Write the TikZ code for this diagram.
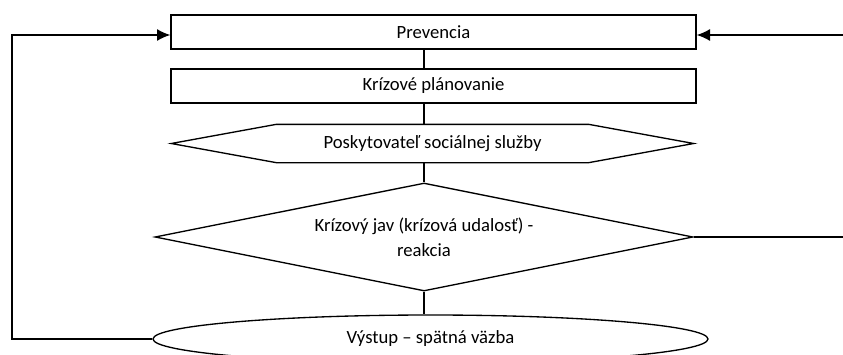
\documentclass[tikz,border=0pt]{standalone}
\usepackage{fontspec}
\setmainfont{Carlito}
\usetikzlibrary{calc}
\usetikzlibrary{shapes.geometric}
\usetikzlibrary{arrows.meta}
\newdimen\pxunit
\setlength{\pxunit}{0.75pt}

\begin{document}
\begin{tikzpicture}[x=0.75pt,y=-0.75pt,line width=1pt,font=\fontsize{14}{18.75}\selectfont,box/.style={rectangle,draw,sharp corners,inner sep=0},frame/.style={rectangle,draw=none,inner sep=0},decision/.style={diamond,draw,aspect=5,inner sep=0,align=center},terminal/.style={ellipse,draw,inner sep=0},wire/.style={draw},feed/.style={draw,-{Latex[length=10pt,width=9pt]}}]
  \useasboundingbox (0,0) rectangle (843,354);
  \node[box,minimum width=525\pxunit,minimum height=34\pxunit] (prevencia) at (433.5,32) {Prevencia};
  \node[box,minimum width=525\pxunit,minimum height=34\pxunit] (planovanie) at (433.5,86) {Krízové plánovanie};
  \node[frame,minimum width=521\pxunit,minimum height=37\pxunit] (poskytovatel) at (432.5,143.5) {Poskytovateľ sociálnej služby};
  \node[decision,minimum width=538\pxunit,minimum height=108\pxunit] (jav) at (424,237) {Krízový jav (krízová udalosť) -\\reakcia};
  \node[terminal,minimum width=555\pxunit,minimum height=48\pxunit] (vystup) at (430.5,339) {Výstup – spätná väzba};
  \coordinate (loop) at (12,35);
  \coordinate (right in) at (843,35);
  \coordinate (right out) at (843,237);
  \path[wire] (poskytovatel.west) -- ($(poskytovatel.north west)+(105,0)$) -- ($(poskytovatel.north east)+(-105,0)$) -- (poskytovatel.east) -- ($(poskytovatel.south east)+(-105,0)$) -- ($(poskytovatel.south west)+(105,0)$) -- cycle;
  \path[wire] (prevencia.south -| jav.north) -- (planovanie.north -| jav.north);
  \path[wire] (planovanie.south -| jav.north) -- (poskytovatel.north -| jav.north);
  \path[wire] (poskytovatel.south -| jav.north) -- (jav.north);
  \path[wire] (jav.south) -- (jav.south |- vystup.north);
  \path[feed] (vystup.west) -| (loop) -- (loop -| prevencia.west);
  \path[feed] (right in) -- (right in -| prevencia.east);
  \path[wire] (jav.east) -- (right out);
\end{tikzpicture}
\end{document}
